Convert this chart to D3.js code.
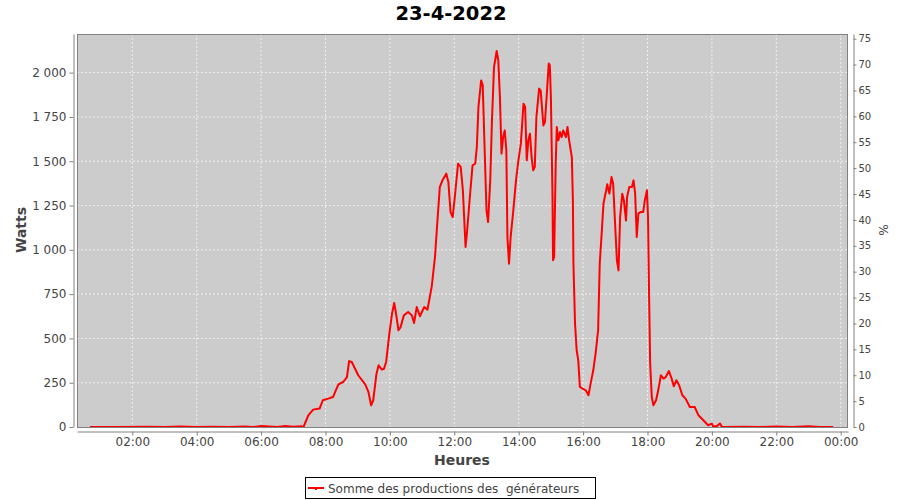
<!DOCTYPE html>
<html><head><meta charset="utf-8">
<script src="https://cdn.jsdelivr.net/npm/d3@7"></script>
<style>
body{margin:0;background:#fff;}
text{font-family:"DejaVu Sans",sans-serif;}
</style>
</head><body>
<svg id="c" width="900" height="500"></svg>
<script>
const chartTitle = "23-4-2022";
const seriesName = "Somme des productions des  générateurs";
const yLabel = "Watts";
const y2Label = "%";
const xLabel = "Heures";

const times = ["00:41","01:30","02:30","03:00","03:30","04:00","04:30","05:00","05:30","05:45","06:00","06:15","06:30","06:45","07:00","07:15","07:19",
"07:28","07:37","07:49","07:55","08:05","08:14","08:24","08:33","08:40","08:44","08:49","09:01","09:14","09:20","09:25","09:29","09:35","09:39","09:45","09:49","09:53","09:59",
"10:04","10:08","10:11","10:16","10:20","10:26","10:34","10:41","10:45","10:50","10:56","11:04","11:10","11:18","11:24","11:28","11:33","11:38","11:45","11:49","11:53","11:57",
"12:01","12:07","12:12","12:16","12:21","12:24","12:29","12:34","12:39","12:42","12:45","12:50","12:53","12:57",
"13:00","13:03","13:07","13:10","13:14","13:19","13:22","13:25","13:28","13:31","13:34","13:37","13:39","13:42","13:45","13:50","13:55","13:59",
"14:04","14:09","14:12","14:15","14:18","14:21","14:24","14:27","14:30","14:33","14:38","14:41","14:46","14:49","14:52","14:56","14:58",
"15:00","15:03","15:04","15:06","15:09","15:11","15:14","15:17","15:20","15:23","15:28","15:31","15:34","15:39","15:41","15:42","15:45","15:48","15:51","15:54","15:59",
"16:05","16:10","16:14","16:19","16:24","16:28","16:31","16:35","16:38","16:43","16:45","16:49","16:53","16:56","16:59",
"17:03","17:06","17:09","17:13","17:16","17:20","17:22","17:26","17:31","17:34","17:37","17:40","17:43","17:47","17:52","17:55","17:59",
"18:01","18:03","18:05","18:08","18:11","18:16","18:20","18:25","18:30","18:34","18:40","18:45","18:49","18:54","18:59",
"19:05","19:11","19:19","19:28","19:35","19:44","19:53","20:00","20:02","20:09","20:15","20:19",
"21:00","21:30","22:00","22:30","23:00","23:20","23:46"];

const watts = [0,0,2,0,3,0,2,0,3,0,5,3,0,5,2,4,0,
66,98,104,151,160,169,241,254,282,372,367,292,241,198,122,151,301,348,324,329,367,527,
640,700,649,546,564,630,649,630,587,677,625,677,662,794,959,1138,1354,1392,1430,1383,1213,1185,
1298,1486,1467,1336,1016,1110,1298,1477,1486,1580,1806,1956,1928,1524,
1223,1157,1392,1712,2031,2122,2069,1862,1543,1636,1674,1561,1072,922,1072,1223,1392,1495,
1599,1825,1806,1505,1618,1655,1524,1449,1467,1749,1910,1900,1702,1721,1862,2051,2041,
1862,1298,941,959,1486,1693,1618,1665,1636,1674,1636,1693,1618,1524,1279,922,583,433,376,226,217,
207,179,245,320,433,546,922,1110,1261,1336,1370,1317,1411,1373,1185,
941,884,1185,1317,1279,1166,1298,1354,1354,1392,1317,1072,1204,1213,1213,1279,1336,
1185,734,358,169,122,151,207,292,273,282,316,273,230,264,235,
179,160,113,113,66,38,10,19,5,4,20,0,
2,0,3,0,4,0,0];

const wattTicks = [0,250,500,750,1000,1250,1500,1750,2000];
const pctTicks = [0,5,10,15,20,25,30,35,40,45,50,55,60,65,70,75];
const hourTicks = [2,4,6,8,10,12,14,16,18,20,22,24];

const svg = d3.select("#c");
const L = 77, R = 848, T = 34, B = 427;

const toH = s => { const [h,m] = s.split(":").map(Number); return h + m/60; };
const data = times.map((t,i) => ({h: toH(t), w: watts[i]}));

const x = d3.scaleLinear().domain([0.283, 24.227]).range([L, R]);
const y = d3.scaleLinear().domain([0, 2218]).range([B, T]);
const y2 = d3.scaleLinear().domain([0, 75.9]).range([B, T]);

const fr = d3.formatLocale({decimal: ",", thousands: "\u00a0", grouping: [3], currency: ["", "€"]});
const wFmt = fr.format(",d");

svg.append("rect").attr("x", L).attr("y", T).attr("width", R - L).attr("height", B - T)
  .attr("fill", "#cccccc");

const grid = svg.append("g");
grid.selectAll("line.v").data(hourTicks).join("line")
  .attr("x1", d => x(d)).attr("x2", d => x(d)).attr("y1", T).attr("y2", B)
  .attr("stroke", "#ffffff").attr("stroke-width", 0.7).attr("stroke-dasharray", "2,2");
grid.selectAll("line.h").data(wattTicks.filter(d => d > 0)).join("line")
  .attr("x1", L).attr("x2", R).attr("y1", d => y(d)).attr("y2", d => y(d))
  .attr("stroke", "#ffffff").attr("stroke-width", 0.7).attr("stroke-dasharray", "2,2");

const line = d3.line().x(d => x(d.h)).y(d => y(d.w));
svg.append("path").datum(data).attr("d", line)
  .attr("fill", "none").attr("stroke", "#ff0000").attr("stroke-width", 2)
  .attr("stroke-linejoin", "round");

svg.append("rect").attr("x", L + 0.5).attr("y", T + 0.5).attr("width", R - L - 1).attr("height", B - T)
  .attr("fill", "none").attr("stroke", "#808080").attr("stroke-width", 1);

function styleAxis(g, fs) {
  g.selectAll(".domain").attr("stroke", "#808080");
  g.selectAll(".tick line").attr("stroke", "#808080");
  g.selectAll(".tick text").attr("fill", "#444").style("font-size", fs + "px")
   .style("font-family", "DejaVu Sans, sans-serif");
}

const gL = svg.append("g").attr("transform", "translate(73.5,0)")
  .call(d3.axisLeft(y).tickValues(wattTicks).tickFormat(wFmt).tickSize(4).tickSizeOuter(0).tickPadding(3));
styleAxis(gL, 12);

const gB = svg.append("g").attr("transform", "translate(0,431.5)")
  .call(d3.axisBottom(x).tickValues(hourTicks)
    .tickFormat(d => String(d % 24).padStart(2, "0") + ":00").tickSize(4).tickSizeOuter(0).tickPadding(2));
styleAxis(gB, 12);

const gR = svg.append("g").attr("transform", "translate(853.5,0)")
  .call(d3.axisRight(y2).tickValues(pctTicks).tickSize(3).tickSizeOuter(0).tickPadding(2));
styleAxis(gR, 10);

svg.append("text").attr("x", 451).attr("y", 20).attr("text-anchor", "middle")
  .style("font-size", "19.5px").style("font-weight", "bold").attr("fill", "#000").text(chartTitle);
svg.append("text").attr("x", 462).attr("y", 465).attr("text-anchor", "middle")
  .style("font-size", "14px").style("font-weight", "bold").attr("fill", "#444").text(xLabel);
svg.append("text").attr("transform", "translate(26,230) rotate(-90)").attr("text-anchor", "middle")
  .style("font-size", "14px").style("font-weight", "bold").attr("fill", "#444").text(yLabel);
svg.append("text").attr("transform", "translate(879,230) rotate(90)").attr("text-anchor", "middle")
  .style("font-size", "12px").attr("fill", "#444").text(y2Label);

const lg = svg.append("g");
lg.append("rect").attr("x", 305.5).attr("y", 477.5).attr("width", 290).attr("height", 21)
  .attr("fill", "#fff").attr("stroke", "#000").attr("stroke-width", 1);
lg.append("line").attr("x1", 308).attr("x2", 324).attr("y1", 488).attr("y2", 488)
  .attr("stroke", "#ff0000").attr("stroke-width", 2);
lg.append("rect").attr("x", 315).attr("y", 487).attr("width", 2).attr("height", 3).attr("fill", "#ff0000");
lg.append("text").attr("x", 328).attr("y", 492.5).style("font-size", "12px").style("white-space", "pre")
  .attr("xml:space", "preserve").attr("fill", "#444").text(seriesName);
</script>
</body></html>
